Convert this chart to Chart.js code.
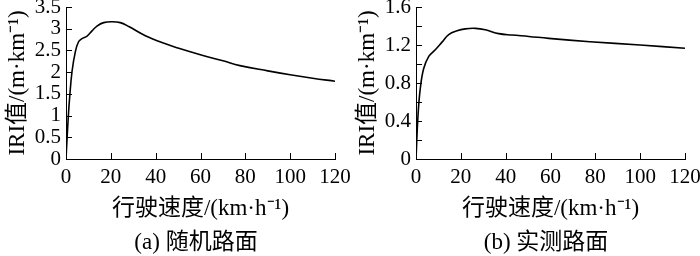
<!DOCTYPE html>
<html>
<head>
<meta charset="utf-8">
<script src="https://cdn.jsdelivr.net/npm/chart.js@4/dist/chart.umd.min.js"></script>
<style>
  body { margin: 0; background: #fff; }
  .box { position: absolute; top: 0; width: 350px; height: 256px; }
</style>
</head>
<body>
<div class="box" style="left:0"><canvas id="chart-a" width="350" height="256"></canvas></div>
<div class="box" style="left:350px"><canvas id="chart-b" width="350" height="256"></canvas></div>
<script>
// (a) random road surface
const speedA = [0, 0.4, 1, 1.6, 2.7, 4.2, 5.6, 7.1, 9.4, 11.6, 13.8, 16.8, 20.5, 24.2, 28, 35.4, 42.8, 50.3, 60.7, 70, 77.6, 90, 100, 110, 120];
const iriA = [0, 0.4, 0.95, 1.4, 2.02, 2.48, 2.7, 2.77, 2.83, 2.95, 3.06, 3.14, 3.16, 3.14, 3.05, 2.84, 2.68, 2.55, 2.39, 2.26, 2.15, 2.03, 1.94, 1.86, 1.79];
// (b) measured road surface
const speedB = [0, 0.9, 1.9, 3.4, 5.7, 8.6, 11.6, 14.6, 18.3, 22, 26.5, 30.9, 36.9, 42.8, 50.3, 59.2, 77.6, 100, 120];
const iriB = [0, 0.46, 0.74, 0.95, 1.08, 1.15, 1.23, 1.31, 1.35, 1.37, 1.375, 1.36, 1.32, 1.305, 1.29, 1.27, 1.235, 1.2, 1.165];

const xTitle = '行驶速度/(km·h⁻¹)';
const yTitle = 'IRI值/(m·km⁻¹)';
const serif = "'Liberation Serif', 'Noto Sans CJK SC', serif";

// ticks point inward, and the caption sits under the axis title
const extras = {
    id: 'extras',
    afterDraw(chart, args, opts) {
        const ctx = chart.ctx;
        const x = chart.scales.x, y = chart.scales.y;
        ctx.save();
        ctx.strokeStyle = '#000';
        ctx.lineWidth = 1;
        ctx.beginPath();
        x.ticks.forEach(t => {
            const px = Math.round(x.getPixelForValue(t.value)) + 0.5;
            ctx.moveTo(px, y.bottom);
            ctx.lineTo(px, y.bottom - 6);
        });
        y.ticks.forEach(t => {
            const py = Math.round(y.getPixelForValue(t.value)) + 0.5;
            ctx.moveTo(x.left, py);
            ctx.lineTo(x.left + 6, py);
        });
        ctx.stroke();
        ctx.fillStyle = '#000';
        ctx.font = '23px ' + serif;
        ctx.textAlign = 'center';
        ctx.textBaseline = 'middle';
        ctx.fillText(opts.text, opts.x, 243);
        ctx.restore();
    }
};

function makeChart(id, xs, ys, yMax, yStep, labelStep, caption) {
    return new Chart(document.getElementById(id), {
        type: 'line',
        data: {
            datasets: [{
                data: xs.map((v, i) => ({ x: v, y: ys[i] })),
                borderColor: '#000',
                borderWidth: 1.6,
                pointRadius: 0,
                tension: 0.4,
                fill: false,
            }],
        },
        options: {
            responsive: false,
            animation: false,
            layout: { padding: { top: 0, left: 0, right: 0, bottom: 29 } },
            plugins: {
                legend: { display: false },
                tooltip: { enabled: false },
                extras: { text: caption, x: 196 },
            },
            scales: {
                x: {
                    type: 'linear',
                    min: 0,
                    max: 120,
                    afterFit: s => { s.height = 68; s.paddingRight = 15; },
                    ticks: { stepSize: 20, color: '#000', padding: 6, maxRotation: 0,
                             font: { family: serif, size: 21 } },
                    grid: { drawOnChartArea: false, drawTicks: false },
                    border: { color: '#000', width: 1 },
                    title: { display: true, text: xTitle, color: '#000',
                             font: { family: serif, size: 23 } },
                },
                y: {
                    min: 0,
                    max: yMax,
                    afterFit: s => { s.width = 66; s.paddingTop = 7; },
                    ticks: { stepSize: yStep, color: '#000', padding: 5, autoSkip: false,
                             font: { family: serif, size: 21 },
                             callback: v => {
                                 const r = v / labelStep;
                                 return Math.abs(r - Math.round(r)) < 1e-6 ? String(+v.toFixed(2)) : '';
                             } },
                    grid: { drawOnChartArea: false, drawTicks: false },
                    border: { color: '#000', width: 1 },
                    title: { display: true, text: yTitle, color: '#000',
                             font: { family: serif, size: 23 } },
                },
            },
        },
        plugins: [extras],
    });
}

makeChart('chart-a', speedA, iriA, 3.5, 0.5, 0.5, '(a) 随机路面');
makeChart('chart-b', speedB, iriB, 1.6, 0.2, 0.4, '(b) 实测路面');
</script>
</body>
</html>
